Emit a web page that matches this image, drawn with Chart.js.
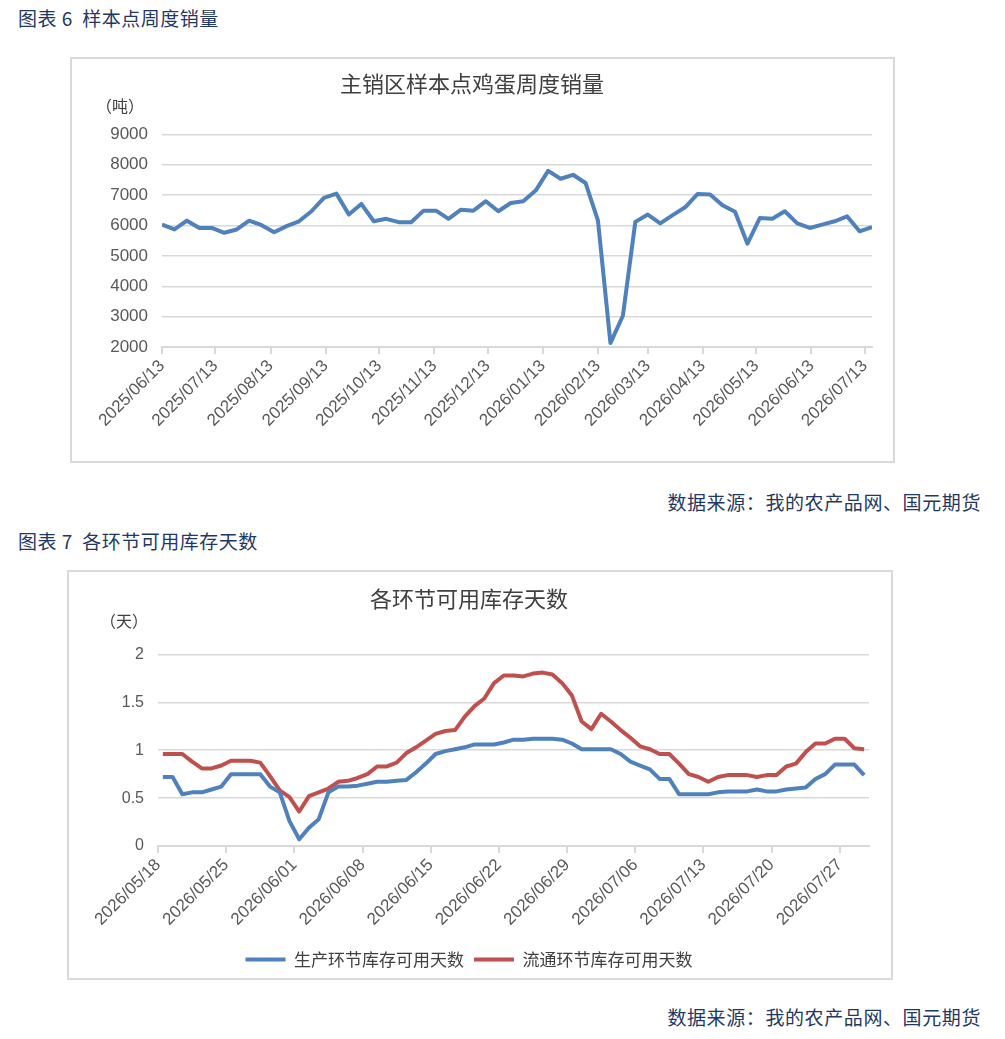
<!DOCTYPE html>
<html>
<head>
<meta charset="utf-8">
<script src="https://cdn.jsdelivr.net/npm/chart.js@4.4.1/dist/chart.umd.min.js"></script>
<style>
  body { margin: 0; background: #fff; width: 1005px; height: 1039px; position: relative; font-family: "Noto Sans CJK SC", sans-serif; }
  .head { position: absolute; left: 18px; font-size: 19px; line-height: 22px; color: #1f3864; letter-spacing: 0.5px; }
  .src { position: absolute; right: 24px; font-size: 19px; line-height: 22px; color: #1f3864; letter-spacing: 0.6px; }
  .box { position: absolute; border: 2px solid #d9d9d9; box-sizing: border-box; }
  .unit { position: absolute; font-size: 16px; line-height: 18px; color: #404040; }
  canvas { display: block; }
</style>
</head>
<body>

<div class="head" style="top:7px">图表 6&nbsp; 样本点周度销量</div>
<div class="box" style="left:70px; top:57px; width:825px; height:406px">
  <canvas id="salesChart" width="821" height="402"></canvas>
</div>
<div class="unit" style="left:96px; top:96px">（吨）</div>
<div class="src" style="top:491px">数据来源：我的农产品网、国元期货</div>

<div class="head" style="top:530px">图表 7&nbsp; 各环节可用库存天数</div>
<div class="box" style="left:67px; top:570px; width:826px; height:410px">
  <canvas id="stockChart" width="822" height="406"></canvas>
</div>
<div class="unit" style="left:100px; top:611px">（天）</div>
<div class="src" style="top:1006px">数据来源：我的农产品网、国元期货</div>

<script>
// 主销区样本点鸡蛋周度销量 (吨), weekly from 2025/06/13
const salesStart = '2025/06/13';
const salesVolume = [
  6030, 5870, 6160, 5920, 5920, 5760, 5870, 6160, 6010, 5780,
  5980, 6140, 6470, 6910, 7050, 6360, 6710, 6140, 6220, 6110,
  6110, 6490, 6490, 6220, 6520, 6490, 6800, 6470, 6740, 6800,
  7150, 7800, 7540, 7670, 7400, 6160, 2130, 3030, 6120, 6360,
  6070, 6340, 6600, 7040, 7020, 6670, 6450, 5400, 6250, 6220,
  6470, 6070, 5920, 6030, 6140, 6300, 5810, 5950
];
const salesTicks = [
  '2025/06/13', '2025/07/13', '2025/08/13', '2025/09/13', '2025/10/13',
  '2025/11/13', '2025/12/13', '2026/01/13', '2026/02/13', '2026/03/13',
  '2026/04/13', '2026/05/13', '2026/06/13', '2026/07/13'
];

// 各环节可用库存天数, daily from 2026/05/18
const stockStart = '2026/05/18';
const productionDays = [
  0.72, 0.72, 0.54, 0.56, 0.56, 0.59, 0.62, 0.75, 0.75, 0.75,
  0.75, 0.62, 0.56, 0.26, 0.07, 0.19, 0.28, 0.56, 0.62, 0.62,
  0.63, 0.65, 0.67, 0.67, 0.68, 0.69, 0.77, 0.86, 0.96, 0.99,
  1.01, 1.03, 1.06, 1.06, 1.06, 1.08, 1.11, 1.11, 1.12, 1.12,
  1.12, 1.11, 1.07, 1.01, 1.01, 1.01, 1.01, 0.96, 0.88, 0.84,
  0.80, 0.70, 0.70, 0.54, 0.54, 0.54, 0.54, 0.56, 0.57, 0.57,
  0.57, 0.59, 0.57, 0.57, 0.59, 0.60, 0.61, 0.70, 0.75, 0.85,
  0.85, 0.85, 0.74
];
const circulationDays = [
  0.96, 0.96, 0.96, 0.88, 0.81, 0.81, 0.84, 0.89, 0.89, 0.89,
  0.87, 0.73, 0.58, 0.51, 0.36, 0.52, 0.56, 0.60, 0.67, 0.68,
  0.71, 0.75, 0.83, 0.83, 0.87, 0.97, 1.03, 1.10, 1.17, 1.20,
  1.21, 1.35, 1.46, 1.54, 1.70, 1.78, 1.78, 1.77, 1.80, 1.81,
  1.79, 1.70, 1.57, 1.30, 1.22, 1.38, 1.30, 1.21, 1.13, 1.04,
  1.01, 0.96, 0.96, 0.86, 0.75, 0.72, 0.67, 0.72, 0.74, 0.74,
  0.74, 0.72, 0.74, 0.74, 0.83, 0.86, 0.98, 1.07, 1.07, 1.12,
  1.12, 1.02, 1.01
];
const stockTicks = [
  '2026/05/18', '2026/05/25', '2026/06/01', '2026/06/08', '2026/06/15', '2026/06/22',
  '2026/06/29', '2026/07/06', '2026/07/13', '2026/07/20', '2026/07/27'
];

const BLUE = '#4f81bd';
const RED = '#c0504d';
const GRID = '#d9d9d9';
const TICK = '#595959';

function dayNum(s) {
  const [y, m, d] = s.split('/').map(Number);
  return Date.UTC(y, m - 1, d) / 86400000;
}

Chart.defaults.animation = false;
Chart.defaults.font.family = 'Liberation Sans';
Chart.defaults.color = TICK;

// sales chart: x = days since first week
const salesTickPos = salesTicks.map(s => dayNum(s) - dayNum(salesStart));
const salesPoints = salesVolume.map((v, i) => ({ x: i * 7, y: v }));

new Chart(document.getElementById('salesChart'), {
  type: 'line',
  data: {
    datasets: [{
      label: '主销区样本点鸡蛋周度销量',
      data: salesPoints,
      borderColor: BLUE,
      borderWidth: 4,
      pointRadius: 0,
      tension: 0,
      borderJoinStyle: 'round'
    }]
  },
  options: {
    responsive: false,
    layout: { padding: { left: 0, right: 21, top: 0, bottom: 0 } },
    plugins: {
      legend: { display: false },
      tooltip: { enabled: false },
      title: {
        display: true,
        text: '主销区样本点鸡蛋周度销量',
        color: '#404040',
        font: { family: 'Noto Sans CJK SC', size: 22, weight: 'normal' },
        padding: { top: 11, bottom: 38 }
      }
    },
    scales: {
      x: {
        type: 'linear',
        min: 0,
        max: (salesVolume.length - 1) * 7,
        afterBuildTicks: s => { s.ticks = salesTickPos.map(v => ({ value: v })); },
        afterFit: s => { s.height = 114; },
        grid: { drawOnChartArea: false, tickLength: 7, color: GRID, lineWidth: 2 },
        border: { color: GRID, width: 2 },
        ticks: {
          autoSkip: false, minRotation: 45, maxRotation: 45, padding: 2,
          font: { size: 17 },
          callback: (v, i) => salesTicks[i]
        }
      },
      y: {
        min: 2000,
        max: 9000,
        afterFit: s => { s.width = 90; },
        grid: { color: GRID, lineWidth: 1.5, drawTicks: false },
        border: { display: false },
        ticks: { stepSize: 1000, padding: 14, font: { size: 17 }, callback: v => v }
      }
    }
  }
});

// stock chart: daily points centred in each day slot
const stockTickPos = stockTicks.map(s => dayNum(s) - dayNum(stockStart));
const prodPoints = productionDays.map((v, i) => ({ x: i + 0.5, y: v }));
const circPoints = circulationDays.map((v, i) => ({ x: i + 0.5, y: v }));

new Chart(document.getElementById('stockChart'), {
  type: 'line',
  data: {
    datasets: [{
      label: '生产环节库存可用天数',
      data: prodPoints,
      borderColor: BLUE,
      backgroundColor: BLUE,
      borderWidth: 4,
      pointRadius: 0,
      tension: 0,
      borderJoinStyle: 'round'
    }, {
      label: '流通环节库存可用天数',
      data: circPoints,
      borderColor: RED,
      backgroundColor: RED,
      borderWidth: 4,
      pointRadius: 0,
      tension: 0,
      borderJoinStyle: 'round'
    }]
  },
  options: {
    responsive: false,
    layout: { padding: { left: 0, right: 22, top: 0, bottom: 0 } },
    plugins: {
      tooltip: { enabled: false },
      title: {
        display: true,
        text: '各环节可用库存天数',
        color: '#404040',
        font: { family: 'Noto Sans CJK SC', size: 22, weight: 'normal' },
        padding: { top: 13, bottom: 43 }
      },
      legend: {
        position: 'bottom',
        labels: {
          usePointStyle: true,
          pointStyle: 'line',
          pointStyleWidth: 40,
          padding: 10,
          color: '#404040',
          font: { family: 'Noto Sans CJK SC', size: 17 }
        }
      }
    },
    scales: {
      x: {
        type: 'linear',
        min: 0,
        max: productionDays.length,
        afterBuildTicks: s => { s.ticks = stockTickPos.map(v => ({ value: v })); },
        afterFit: s => { s.height = 95; },
        grid: { drawOnChartArea: false, tickLength: 7, color: GRID, lineWidth: 2 },
        border: { color: GRID, width: 2 },
        ticks: {
          autoSkip: false, minRotation: 45, maxRotation: 45, padding: 2,
          font: { size: 17 },
          callback: (v, i) => stockTicks[i]
        }
      },
      y: {
        min: 0,
        max: 2,
        afterFit: s => { s.width = 89; },
        grid: { color: GRID, lineWidth: 1.5, drawTicks: false },
        border: { display: false },
        ticks: { stepSize: 0.5, padding: 14, font: { size: 16 }, callback: v => String(v) }
      }
    }
  }
});
</script>
</body>
</html>
